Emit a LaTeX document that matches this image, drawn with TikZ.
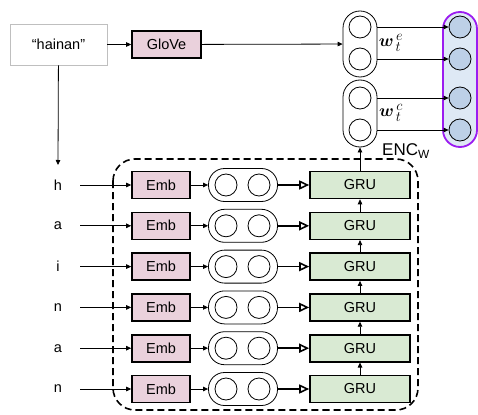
\documentclass[tikz,border=0pt]{standalone}
\usepackage{amsmath,bm}
\usepackage{fontspec}
\setmainfont{Liberation Sans}
\usepackage{tikz}
\usetikzlibrary{arrows.meta}
\definecolor{embpink}{HTML}{EAD1DC}
\definecolor{grugreen}{HTML}{D9EAD3}
\definecolor{vecblue}{HTML}{BDD0E7}
\definecolor{vecback}{HTML}{DEE9F5}
\definecolor{outpurple}{HTML}{9B1CF0}

\begin{document}
\begin{tikzpicture}[x=1pt,y=-1pt,>={Triangle[length=5pt,width=4.5pt]},line width=0.8pt,
  font=\fontsize{14.5}{17}\selectfont,
  box/.style={draw,line width=1.6pt,minimum height=27pt,inner sep=0pt},
  pill/.style={draw,rounded corners=16pt,minimum height=33pt,inner sep=0pt},
  stack/.style={draw,rounded corners=17pt,minimum width=34pt,minimum height=67pt,inner sep=0pt},
  unit/.style={draw,circle,minimum size=22pt,inner sep=0pt},
  veclabel/.style={font=\fontsize{19}{21}\selectfont,inner sep=0pt},
  bigtip/.style={line width=1.6pt,-{Triangle[open,length=10pt,width=9pt]}}]
\useasboundingbox (0,0) rectangle (478,414);
% ---- character encoder ENC_W ----
\draw[line width=1.6pt,dash pattern=on 7pt off 4pt,rounded corners=22pt] (113,159) rectangle (418,410);
\node[font=\fontsize{17}{19}\selectfont,inner sep=0pt] (enc) at (406,151) {ENC\textsubscript{W}};
\foreach \ch [count=\i] in {h,a,i,n,a,n}{
  \pgfmathsetmacro\y{144.2+40.8*\i}
  \node[minimum width=44pt,inner sep=0pt] (ch\i) at (58,\y) {\ch};
  \node[box,fill=embpink,minimum width=58pt] (emb\i) at (161,\y) {Emb};
  \node[pill,minimum width=69pt] (pill\i) at (243,\y) {};
  \node[unit] (l\i) at (226,\y) {};
  \node[unit] (r\i) at (259,\y) {};
  \node[box,fill=grugreen,minimum width=100pt] (gru\i) at (360,\y) {GRU};
  \draw[->] (ch\i) -- (emb\i);
  \draw[->] (emb\i) -- (pill\i);
  \draw[bigtip] (pill\i) -- (gru\i);
}
\foreach \i/\j in {1/2,2/3,3/4,4/5,5/6}
  \draw[->] (gru\j) -- (gru\i);
% ---- word level ----
\node[draw=gray!50,minimum width=97pt,minimum height=41pt] (word) at (58.5,44.5) {“hainan”};
\node[box,fill=embpink,minimum width=69pt] (glove) at (166.5,44.5) {GloVe};
\coordinate (chtop) at (58,165);
\draw[->] (word) -- (chtop);
\draw[->] (word) -- (glove);
% word vectors
\node[stack,minimum height=66pt] (ve) at (360,44) {};
\node[stack] (vc) at (360,113.5) {};
\node[unit] (e1) at (360,27) {};
\node[unit] (e2) at (360,59) {};
\node[unit] (c1) at (360,98) {};
\node[unit] (c2) at (360,130) {};
\draw[->] (glove) -- (ve);
\draw[->] (gru1) -- (vc);
\node[veclabel] (we) at (391,43) {$\bm{w}_{\,t}^{\,e}$};
\node[veclabel] (wc) at (391,113) {$\bm{w}_{\,t}^{\,c}$};
% concatenated output
\node[stack,draw=outpurple,line width=1.8pt,fill=vecback,minimum height=135pt] (out) at (460,79.5) {};
\node[unit,fill=vecblue] (o1) at (460,27) {};
\node[unit,fill=vecblue] (o2) at (460,59) {};
\node[unit,fill=vecblue] (o3) at (460,98) {};
\node[unit,fill=vecblue] (o4) at (460,130) {};
\draw[->] (e1 -| ve.east) -- (o1);
\draw[->] (e2 -| ve.east) -- (o2);
\draw[->] (c1 -| vc.east) -- (o3);
\draw[->] (c2 -| vc.east) -- (o4);
\end{tikzpicture}
\end{document}
